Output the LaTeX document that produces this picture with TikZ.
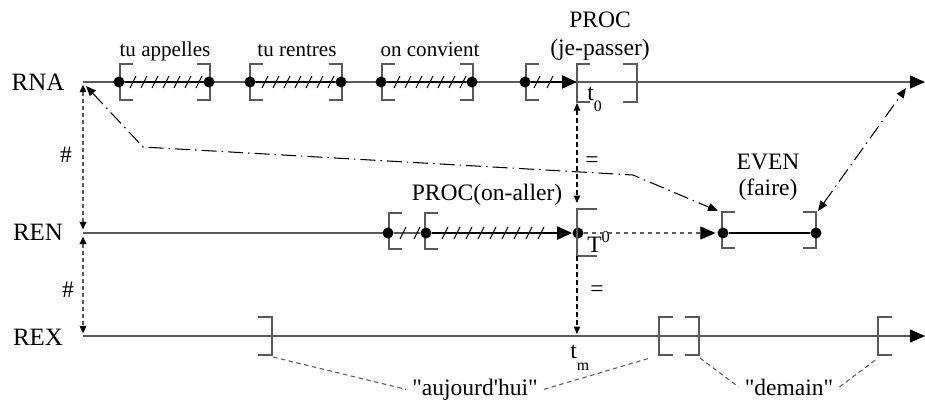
\documentclass[tikz,border=0pt]{standalone}
\usepackage{fontspec}
\setmainfont{Liberation Serif}
\usetikzlibrary{arrows.meta}
\definecolor{axisgray}{HTML}{5A5A5A}
\newcommand{\lbrak}[4]{\draw[brak] (#1+#4,#2-#3) -- (#1,#2-#3) -- (#1,#2+#3) -- (#1+#4,#2+#3);}
\newcommand{\rbrak}[4]{\draw[brak] (#1-#4,#2-#3) -- (#1,#2-#3) -- (#1,#2+#3) -- (#1-#4,#2+#3);}
\newcommand{\hatch}[4]{\foreach \hx in {#1,#2,...,#3} \draw[hatchline] (\hx-3,#4+6) -- (\hx+3,#4-6);}

\begin{document}
\begin{tikzpicture}[x=0.02cm,y=-0.02cm,
  axis/.style={draw=axisgray,line width=0.8pt},
  seg/.style={line width=1.2pt},
  brak/.style={draw=axisgray,line width=0.8pt},
  dot/.style={circle,fill,inner sep=0pt,minimum size=2.2mm},
  hatchline/.style={line width=0.6pt},
  bigtip/.style={-{Triangle[length=3mm,width=2.6mm,color=black]}},
  axlab/.style={font=\fontsize{14.2}{17}\selectfont},
  toplab/.style={anchor=base,font=\fontsize{12}{14}\selectfont},
  lab/.style={font=\fontsize{13.4}{16}\selectfont},
  vdot/.style={draw=axisgray,line width=1pt,dash pattern=on 0.8mm off 0.6mm,{Triangle[length=1.5mm,width=1.3mm,color=black]}-{Triangle[length=1.5mm,width=1.3mm,color=black]}},
  mdot/.style={line width=0.6pt,dash pattern=on 1mm off 0.6mm},
  dashdot/.style={line width=0.6pt,dash pattern=on 3mm off 1mm on 0.3mm off 1mm,{Triangle[length=2mm,width=1.6mm]}-{Triangle[length=2mm,width=1.6mm]}},
  hint/.style={draw=axisgray,line width=0.6pt,dash pattern=on 0.9mm off 0.7mm}]
\useasboundingbox (0,0) rectangle (925,400);

% axes
\node[axlab] (rna) at (38,82) {RNA};
\node[axlab] (ren) at (38,232) {REN};
\node[axlab] (rex) at (38,337) {REX};
\coordinate (rna0) at (83,82);
\coordinate (rna1) at (925,82);
\coordinate (ren0) at (83,233);
\coordinate (rex0) at (83,336);
\coordinate (rex1) at (925,336);
\draw[axis,bigtip] (rna0) -- (rna1);
\draw[axis,bigtip] (rex0) -- (rex1);

% RNA intervals
\node[toplab] (tua) at (165,56) {tu appelles};
\lbrak{120}{82}{18}{13} \rbrak{210}{82}{18}{13}
\node[dot] (ta1) at (119,82) {};
\node[dot] (ta2) at (209,82) {};
\draw[seg] (ta1) -- (ta2);
\hatch{133}{144}{199}{82}

\node[toplab] (tur) at (297,56) {tu rentres};
\lbrak{250}{82}{18}{13} \rbrak{342}{82}{18}{13}
\node[dot] (tr1) at (250,82) {};
\node[dot] (tr2) at (341,82) {};
\draw[seg] (tr1) -- (tr2);
\hatch{265}{276}{331}{82}

\node[toplab] (onc) at (430,56) {on convient};
\lbrak{382}{82}{18}{13} \rbrak{473}{82}{18}{13}
\node[dot] (oc1) at (381,82) {};
\node[dot] (oc2) at (472,82) {};
\draw[seg] (oc1) -- (oc2);
\hatch{397}{408}{463}{82}

\node[lab,anchor=base] (jpname) at (600,27) {PROC};
\node[lab,anchor=base] (jparg) at (600,55) {(je-passer)};
\lbrak{526}{82}{18}{13}
\node[dot] (jp1) at (525,82) {};
\coordinate (t0) at (577,82);
\draw[seg,bigtip] (jp1) -- (t0);
\hatch{537}{550}{550}{82}
\lbrak{577}{83}{19}{13} \rbrak{637}{83}{19}{14}
\node[lab,anchor=base west,inner sep=0pt] (t0lab) at (587,100) {t\raisebox{-1.1ex}{\small 0}};

% REN
\draw[axis] (ren0) -- (388,233);
\node[lab,anchor=base] (palab) at (487,200) {PROC(on-aller)};
\lbrak{389}{231}{18}{13} \lbrak{425}{231}{18}{13}
\node[dot] (pa1) at (388,233) {};
\node[dot] (pa2) at (426,233) {};
\draw[axis] (pa1) -- (pa2);
\hatch{403}{417}{417}{233}
\node[dot] (T0) at (578,233) {};
\draw[seg,bigtip] (pa2) -- (T0);
\hatch{445}{457}{545}{233}
\draw[brak] (597,209) -- (577,209) -- (577,256) -- (597,256);
\node[lab,anchor=base west,inner sep=0pt] (T0lab) at (587,252) {T\textsuperscript{0}};

\node[lab,anchor=base] (evname) at (768,169) {EVEN};
\node[lab,anchor=base] (evarg) at (768,195) {(faire)};
\lbrak{722}{230}{18}{13} \rbrak{816}{230}{18}{13}
\node[dot] (ev1) at (723,233) {};
\node[dot] (ev2) at (816,233) {};
\draw[line width=0.8pt] (ev1) -- (ev2);
\draw[hint,bigtip,shorten >=1pt] (T0) -- (ev1);

% REX
\rbrak{272}{336}{19}{14} \lbrak{659}{336}{19}{14}
\rbrak{699}{336}{19}{14} \lbrak{878}{336}{19}{14}
\node[lab,anchor=base west,inner sep=0pt] (tmlab) at (570,358) {t\raisebox{-1.2ex}{\small m}};
\node[lab,anchor=base] (auj) at (475,395) {\textquotedbl aujourd\textquotesingle hui\textquotedbl};
\node[lab,anchor=base] (dem) at (789,395) {\textquotedbl demain\textquotedbl};
\coordinate (b1) at (273,357);
\coordinate (b2) at (650,358);
\coordinate (b3) at (700,358);
\coordinate (b4) at (878,358);
\draw[hint] (b1) -- (auj.west);
\draw[hint] (auj.east) -- (b2);
\draw[hint] (b3) -- (dem.west);
\draw[hint] (dem.east) -- (b4);

% relations
\draw[vdot,shorten <=1.5pt,shorten >=2pt] (rna0) -- (ren0);
\draw[vdot,shorten <=2pt,shorten >=1.5pt] (ren0) -- (rex0);
\node[lab] (h1) at (66,155) {\#};
\node[lab] (h2) at (68,290) {\#};
\coordinate (t0low) at (577,103);
\coordinate (T0up) at (577,203);
\coordinate (T0low) at (577,256);
\coordinate (tm) at (577,334);
\draw[mdot,{Triangle[length=1.5mm,width=1.3mm]}-{Triangle[length=1.5mm,width=1.3mm]}] (t0low) -- (T0up);
\draw[mdot,-{Triangle[length=1.5mm,width=1.3mm]}] (T0low) -- (tm);
\node[lab] (eq1) at (592,162) {=};
\node[lab] (eq2) at (597,291) {=};
\coordinate (ddA) at (86,86);
\coordinate (dd1) at (143,147);
\coordinate (dd2) at (633,175);
\coordinate (ddB) at (718,211);
\coordinate (ddC) at (818,211);
\coordinate (ddD) at (906,88);
\draw[dashdot] (ddA) -- (dd1) -- (dd2) -- (ddB);
\draw[dashdot] (ddC) -- (ddD);
\end{tikzpicture}
\end{document}
